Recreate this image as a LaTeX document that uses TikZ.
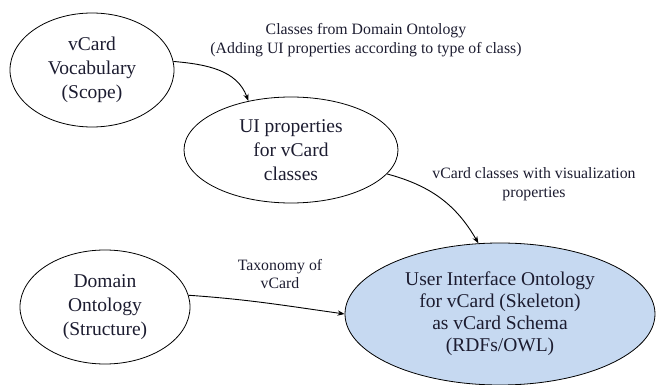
\documentclass[tikz,border=0pt]{standalone}
\usepackage{fontspec}
\setmainfont{Liberation Serif}
\usetikzlibrary{arrows.meta, shapes.geometric}

\definecolor{schemablue}{HTML}{C6D9F1}
\definecolor{inktext}{HTML}{1C1C30}

\begin{document}
\begin{tikzpicture}[
    x=1pt, y=-1pt,
    >=Stealth, % Set default arrow tip style
    bubble/.style={ellipse, draw, line width=0.8pt, inner sep=0pt, align=center,
        text=inktext, font=\fontsize{19.5}{24}\selectfont}, % Style for the ellipses
    flow/.style={->, line width=0.9pt}, % Style for the curved connectors
    labelstyle/.style={align=center, text=inktext, font=\fontsize{15.8}{18.5}\selectfont} % Style for labels
]

    % Page frame
    \useasboundingbox (0,0) rectangle (657,385);

    % Ellipses
    \node[bubble, minimum width=164, minimum height=114] (vocab) at (92,70)
        {vCard\\Vocabulary\\(Scope)};
    \node[bubble, minimum width=214, minimum height=106] (uiprops) at (291,150)
        {UI properties\\for vCard\\classes};
    \node[bubble, minimum width=170, minimum height=114] (domain) at (105,307)
        {Domain\\Ontology\\(Structure)};
    \node[bubble, fill=schemablue, minimum width=310, minimum height=142,
        font=\fontsize{19.5}{22}\selectfont] (schema) at (500,314)
        {User Interface Ontology\\for vCard (Skeleton)\\as vCard Schema\\(RDFs/OWL)};

    % Connectors
    \draw[flow] (vocab.6) to[out=-5, in=110] (uiprops.131);
    \draw[flow] (uiprops.-14) to[out=-15, in=120] (schema.107);
    \draw[flow] (domain.8) to[out=-4, in=172] (schema.west);

    % Labels for the connectors
    \node[labelstyle] (lblclasses) at (366,40)
        {Classes from Domain Ontology\\(Adding UI properties according to type of class)};
    \node[labelstyle] (lblvisual) at (534,184)
        {vCard classes with visualization\\properties};
    \node[labelstyle] (lbltaxo) at (280,274)
        {Taxonomy of\\vCard};

\end{tikzpicture}
\end{document}
